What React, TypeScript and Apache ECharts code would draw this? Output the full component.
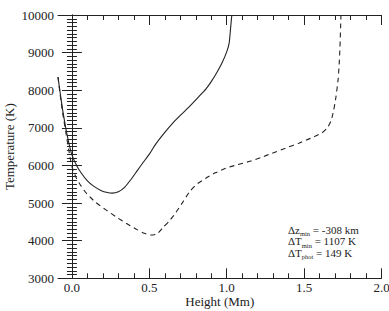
import React, { useEffect, useRef } from "react";
import * as echarts from "echarts";

const xMajor = [0, 0.5, 1, 1.5, 2];
const xMinor = [0.1, 0.2, 0.3, 0.4, 0.6, 0.7, 0.8, 0.9, 1.1, 1.2, 1.3, 1.4, 1.6, 1.7, 1.8, 1.9];

const solidCurve: [number, number][] = [
  [-0.09, 8350], [-0.075, 7900], [-0.06, 7480], [-0.04, 7000], [-0.02, 6600],
  [0.0, 6280], [0.03, 6000], [0.06, 5800], [0.1, 5590], [0.14, 5450],
  [0.19, 5330], [0.23, 5280], [0.26, 5265], [0.3, 5300], [0.34, 5420],
  [0.38, 5620], [0.42, 5850], [0.46, 6080], [0.5, 6300], [0.54, 6560],
  [0.6, 6880], [0.65, 7120], [0.7, 7330], [0.76, 7570], [0.82, 7830],
  [0.865, 8030], [0.9, 8230], [0.94, 8500], [0.97, 8730], [1.0, 9020],
  [1.016, 9260], [1.025, 9650], [1.033, 10000],
];

const dashedCurve: [number, number][] = [
  [-0.09, 8350], [-0.075, 7850], [-0.06, 7400], [-0.04, 6900], [-0.02, 6400],
  [0.0, 5970], [0.03, 5650], [0.06, 5450], [0.093, 5262], [0.15, 5030],
  [0.22, 4818], [0.29, 4620], [0.35, 4464], [0.41, 4320], [0.457, 4214],
  [0.51, 4152], [0.55, 4180], [0.586, 4340], [0.63, 4530], [0.672, 4750],
  [0.72, 5050], [0.76, 5300], [0.8, 5480], [0.865, 5662], [0.93, 5810],
  [0.994, 5928], [1.07, 6020], [1.144, 6104], [1.22, 6210], [1.294, 6327],
  [1.38, 6460], [1.466, 6593], [1.54, 6720], [1.616, 6870], [1.65, 7000],
  [1.675, 7200], [1.69, 7450], [1.705, 7800], [1.72, 8300], [1.728, 8800],
  [1.733, 9300], [1.736, 9700], [1.738, 10000],
];

const annotations = [
  { main: "Δz", sub: "min", rest: " = -308 km" },
  { main: "ΔT", sub: "min", rest: " = 1107 K" },
  { main: "ΔT", sub: "phot", rest: " = 149 K" },
];

const FONT = "'Liberation Serif', 'Times New Roman', serif";
const INK = "#222";

export default function App() {
  const ref = useRef<HTMLDivElement>(null);
  useEffect(() => {
    if (!ref.current) return;
    const chart = echarts.init(ref.current, null, { renderer: "svg" });
    const xMin = -0.09;
    const xMax = 2.0;
    const baseX = {
      type: "value" as const,
      min: xMin,
      max: xMax,
      splitLine: { show: false },
    };
    const baseY = {
      type: "value" as const,
      min: 3000,
      max: 10000,
      interval: 1000,
      splitLine: { show: false },
    };
    chart.setOption({
      animation: false,
      textStyle: { fontFamily: FONT },
      grid: { left: 58, top: 15, right: 7.5, bottom: 32.7, outerBoundsMode: "none", containLabel: false },
      xAxis: [
        {
          ...baseX,
          position: "bottom",
          name: "Height (Mm)",
          nameLocation: "middle",
          nameGap: 17,
          nameMoveOverlap: false,
          nameTextStyle: { fontFamily: FONT, fontSize: 13, color: INK },
          axisLine: { show: true, lineStyle: { color: INK, width: 1 } },
          axisTick: { show: true, inside: true, length: 10, customValues: xMajor, lineStyle: { color: INK } },
          axisLabel: {
            show: true,
            customValues: xMajor,
            formatter: (v: number) => v.toFixed(1),
            fontFamily: FONT,
            fontSize: 13,
            color: INK,
            margin: 3,
          },
        },
        {
          ...baseX,
          position: "bottom",
          axisLine: { show: false },
          axisTick: { show: true, inside: true, length: 5, customValues: xMinor, lineStyle: { color: INK } },
          axisLabel: { show: false },
        },
        {
          ...baseX,
          position: "top",
          axisLine: { show: true, lineStyle: { color: INK, width: 1 } },
          axisTick: { show: true, inside: true, length: 10, customValues: xMajor, lineStyle: { color: INK } },
          axisLabel: { show: false },
        },
        {
          ...baseX,
          position: "top",
          axisLine: { show: false },
          axisTick: { show: true, inside: true, length: 5, customValues: xMinor, lineStyle: { color: INK } },
          axisLabel: { show: false },
        },
      ],
      yAxis: [
        {
          ...baseY,
          position: "left",
          name: "Temperature (K)",
          nameLocation: "middle",
          nameGap: 42,
          nameMoveOverlap: false,
          nameRotate: 90,
          nameTextStyle: { fontFamily: FONT, fontSize: 13, color: INK },
          axisLine: { show: true, lineStyle: { color: INK, width: 1 } },
          axisTick: { show: true, inside: true, length: 10, lineStyle: { color: INK } },
          minorTick: { show: true, splitNumber: 10, length: 5, lineStyle: { color: INK } },
          axisLabel: {
            show: true,
            formatter: (v: number) => String(v),
            fontFamily: FONT,
            fontSize: 13,
            color: INK,
            margin: 4,
          },
        },
        {
          ...baseY,
          position: "right",
          axisLine: { show: true, lineStyle: { color: INK, width: 1 } },
          axisTick: { show: true, inside: true, length: 10, lineStyle: { color: INK } },
          minorTick: { show: true, splitNumber: 10, length: 5, lineStyle: { color: INK } },
          axisLabel: { show: false },
        },
      ],
      series: [
        {
          type: "line",
          xAxisIndex: 0,
          yAxisIndex: 0,
          data: solidCurve,
          showSymbol: false,
          smooth: 0.2,
          lineStyle: { color: INK, width: 1.1, type: "solid" },
          clip: true,
        },
        {
          type: "line",
          xAxisIndex: 0,
          yAxisIndex: 0,
          data: dashedCurve,
          showSymbol: false,
          smooth: 0.2,
          lineStyle: { color: INK, width: 1.1, type: [5, 4] },
          clip: true,
        },
      ],
      graphic: annotations.map((a, i) => ({
        type: "text",
        left: 288,
        top: 224 + i * 11.5,
        style: {
          text: `{m|${a.main}}{s|${a.sub}}{m|${a.rest}}`,
          rich: {
            m: { fontFamily: FONT, fontSize: 11, fill: INK, verticalAlign: "top", lineHeight: 13 },
            s: { fontFamily: FONT, fontSize: 6.5, fill: INK, verticalAlign: "top", lineHeight: 7, padding: [6, 0, 0, 0] },
          },
        },
      })),
    });
    return () => chart.dispose();
  }, []);
  return (
    <div
      ref={ref}
      style={{ position: "fixed", left: 0, top: 0, width: 389, height: 311, background: "#fff" }}
    />
  );
}
